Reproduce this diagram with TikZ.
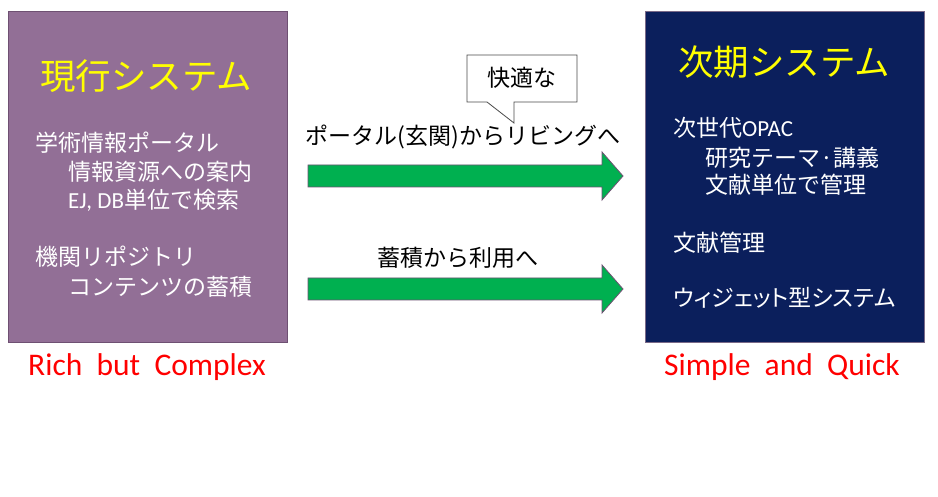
\documentclass[tikz,border=0pt]{standalone}
\usepackage{fontspec}
\setmainfont{Carlito}
\newfontfamily\jp{Noto Sans CJK JP}
\newfontfamily\jpp{Noto Sans CJK JP}[RawFeature=+palt]
\definecolor{boxpurple}{HTML}{926F96}
\definecolor{purpleedge}{HTML}{6E5072}
\definecolor{navy}{HTML}{0B1F5C}
\definecolor{navyedge}{HTML}{7A6A88}
\definecolor{arrowgreen}{HTML}{00B050}
\definecolor{titleyellow}{HTML}{FFFF00}
\tikzset{
  sysbox/.style={draw, line width=1pt},
  systitle/.style={font=\jp\fontsize{35.5}{38}\selectfont, text=titleyellow, inner sep=0pt},
  body/.style={font=\jp\fontsize{23}{26}\selectfont, text=white, anchor=west, inner sep=0pt},
  midtext/.style={font=\jp\fontsize{23}{26}\selectfont, text=black, inner sep=0pt},
  redtext/.style={font=\fontsize{31.5}{34}\selectfont, text=red, inner sep=0pt},
  bigarrow/.style={fill=arrowgreen, draw=purpleedge, line width=0.8pt, line join=miter},
}
\begin{document}
\begin{tikzpicture}[x=1pt,y=-1pt]
\useasboundingbox (0,0) rectangle (938,497);
\fill[white] (0,0) rectangle (938,497);
% left box
\node[sysbox, draw=purpleedge, fill=boxpurple, minimum width=279pt, minimum height=331pt, anchor=north west] (cur) at (8,11) {};
\node[systitle] (curt) at (146,76) {現行システム};
\node[body] (c1) at (35,143) {学術情報ポータル};
\node[body] (c2) at (68,172) {情報資源への案内};
\node[body] (c3) at (68,200) {{\fontspec{Carlito}EJ, DB}単位で検索};
\node[body] (c4) at (35,257) {機関リポジトリ};
\node[body] (c5) at (68,287) {コンテンツの蓄積};
\node[redtext] (rich) at (147,367) {Rich\ \ but\ \ Complex};
% right box
\node[sysbox, draw=navyedge, fill=navy, minimum width=279pt, minimum height=331pt, anchor=north west] (nxt) at (645,11) {};
\node[systitle] (nxtt) at (784,62) {次期システム};
\node[body] (n1) at (673,128) {次世代{\fontspec{Carlito}OPAC}};
\node[body] (n2) at (705,158) {研究テーマ·講義};
\node[body] (n3) at (705,185) {文献単位で管理};
\node[body] (n4) at (673,243) {文献管理};
\node[body, font=\jpp\fontsize{23}{26}\selectfont] (n5) at (673,298) {ウィジェット型システム};
\node[redtext] (simple) at (782,367) {Simple\ \ and\ \ Quick};
% arrows
\coordinate (a1s) at (308,176);
\coordinate (a1t) at (623,176);
\draw[bigarrow] (a1s) ++(0,-11) -- (602,165) -- (602,152) -- (a1t) -- (602,200) -- (602,187) -- (308,187) -- cycle;
\coordinate (a2s) at (308,289);
\coordinate (a2t) at (623,289);
\draw[bigarrow] (a2s) ++(0,-11) -- (602,278) -- (602,265) -- (a2t) -- (602,313) -- (602,300) -- (308,300) -- cycle;
\node[midtext] (l1) at (463,137) {ポータル(玄関)からリビングへ};
\node[midtext] (l2) at (458,258) {蓄積から利用へ};
% callout
\draw[black!70, fill=white, line width=0.8pt, line join=miter] (467,55) -- (577,55) -- (577,102) -- (514,102) -- (514,123) -- (487,102) -- (467,102) -- cycle;
\node[midtext] (call) at (522,78) {快適な};
\end{tikzpicture}
\end{document}
